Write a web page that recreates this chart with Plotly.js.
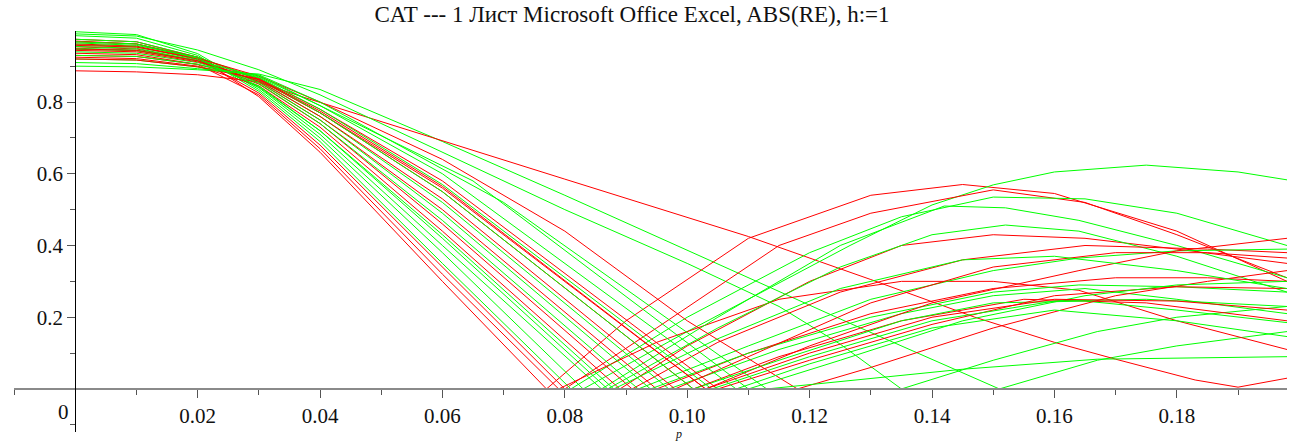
<!DOCTYPE html>
<html>
<head>
<meta charset="utf-8">
<script src="https://cdn.plot.ly/plotly-3.0.1.min.js"></script>
<style>html,body{margin:0;padding:0;background:#fff}#chart{width:1296px;height:443px}</style>
</head>
<body>
<div id="chart"></div>
<script>
const titleText = "CAT --- 1 Лист Microsoft Office Excel, ABS(RE), h:=1";
const xTickVals = [0.02, 0.04, 0.06, 0.08, 0.10, 0.12, 0.14, 0.16, 0.18];
const xTickText = ["0.02", "0.04", "0.06", "0.08", "0.10", "0.12", "0.14", "0.16", "0.18"];
const xMinorVals = [-0.01, 0.01, 0.03, 0.05, 0.07, 0.09, 0.11, 0.13, 0.15, 0.17, 0.19];
const yTickVals = [0.2, 0.4, 0.6, 0.8];
const yTickText = ["0.2", "0.4", "0.6", "0.8"];
const yMinorVals = [-0.1, 0.1, 0.3, 0.5, 0.7, 0.9];

const redP = [
  [0,0.01,0.02,0.03,0.037,0.06,0.08,0.11,0.13,0.147,0.16,0.17,0.183,0.19,0.198],
  [0,0.01,0.02,0.03,0.04,0.06,0.077,0.09,0.11,0.13,0.145,0.16,0.18,0.198],
  [0,0.01,0.02,0.03,0.04,0.06,0.08,0.095,0.115,0.13,0.15,0.165,0.18,0.198],
  [0,0.01,0.02,0.03,0.04,0.06,0.079,0.095,0.115,0.135,0.15,0.164,0.18,0.198],
  [0,0.01,0.02,0.03,0.04,0.06,0.089,0.10,0.12,0.135,0.15,0.165,0.18,0.198],
  [0,0.01,0.02,0.03,0.04,0.06,0.091,0.105,0.125,0.145,0.165,0.185,0.198],
  [0,0.01,0.02,0.03,0.04,0.06,0.095,0.11,0.13,0.15,0.17,0.185,0.198],
  [0,0.01,0.02,0.03,0.04,0.06,0.101,0.115,0.135,0.155,0.175,0.198],
  [0,0.01,0.02,0.03,0.04,0.06,0.103,0.12,0.14,0.164,0.18,0.198],
  [0,0.01,0.02,0.03,0.04,0.06,0.105,0.12,0.14,0.16,0.18,0.198],
  [0,0.01,0.02,0.03,0.04,0.06,0.08,0.10,0.118,0.13,0.15,0.17,0.185,0.198],
  [0,0.01,0.02,0.03,0.04,0.06,0.098,0.11,0.13,0.15,0.17,0.185,0.198],
  [0,0.01,0.02,0.03,0.04,0.06,0.103,0.12,0.14,0.16,0.18,0.198]
];
const redV = [
  [0.887,0.884,0.876,0.856,0.815,0.693,0.585,0.425,0.305,0.2,0.13,0.083,0.025,0.005,0.03],
  [0.975,0.968,0.925,0.815,0.66,0.30,0,0.19,0.42,0.54,0.57,0.545,0.44,0.30],
  [0.97,0.962,0.92,0.825,0.68,0.34,0,0.17,0.40,0.49,0.555,0.52,0.43,0.31],
  [0.936,0.932,0.905,0.82,0.67,0.32,0,0.13,0.25,0.30,0.30,0.275,0.19,0.11],
  [0.925,0.921,0.9,0.845,0.73,0.44,0,0.12,0.30,0.40,0.43,0.42,0.39,0.35],
  [0.954,0.948,0.915,0.85,0.74,0.46,0,0.13,0.27,0.36,0.40,0.39,0.38],
  [0.962,0.956,0.92,0.855,0.75,0.50,0,0.10,0.21,0.28,0.31,0.31,0.30],
  [0.93,0.927,0.905,0.862,0.77,0.55,0,0.09,0.19,0.25,0.24,0.19],
  [0.968,0.962,0.925,0.862,0.77,0.56,0,0.12,0.24,0.33,0.385,0.42],
  [0.944,0.94,0.912,0.866,0.78,0.58,0,0.08,0.18,0.26,0.285,0.28],
  [0.958,0.953,0.922,0.872,0.80,0.64,0.44,0.19,0,0.06,0.17,0.26,0.30,0.33],
  [0.948,0.944,0.915,0.858,0.76,0.53,0,0.09,0.24,0.34,0.38,0.38,0.365],
  [0.92,0.917,0.898,0.864,0.775,0.565,0,0.10,0.20,0.25,0.245,0.22]
];
const greenP = [
  [0,0.01,0.02,0.03,0.04,0.06,0.08,0.093,0.11,0.1266,0.151,0.167,0.18,0.198],
  [0,0.01,0.02,0.03,0.04,0.06,0.08,0.10,0.115,0.125,0.135,0.15,0.167,0.18,0.198],
  [0,0.01,0.02,0.03,0.04,0.06,0.083,0.10,0.1266,0.14,0.15,0.16,0.175,0.19,0.198],
  [0,0.01,0.02,0.03,0.04,0.06,0.081,0.10,0.12,0.135,0.15,0.165,0.18,0.198],
  [0,0.01,0.02,0.03,0.04,0.06,0.086,0.105,0.125,0.142,0.152,0.164,0.18,0.198],
  [0,0.01,0.02,0.03,0.04,0.06,0.087,0.105,0.125,0.14,0.152,0.164,0.18,0.198],
  [0,0.01,0.02,0.03,0.04,0.06,0.092,0.11,0.13,0.15,0.164,0.18,0.198],
  [0,0.01,0.02,0.03,0.04,0.06,0.094,0.11,0.13,0.15,0.164,0.18,0.198],
  [0,0.01,0.02,0.03,0.04,0.06,0.097,0.115,0.135,0.15,0.165,0.18,0.198],
  [0,0.01,0.02,0.03,0.04,0.06,0.101,0.115,0.135,0.15,0.165,0.18,0.198],
  [0,0.01,0.02,0.03,0.04,0.06,0.104,0.12,0.14,0.16,0.175,0.198],
  [0,0.01,0.02,0.03,0.04,0.06,0.108,0.12,0.14,0.16,0.18,0.198],
  [0,0.01,0.02,0.03,0.04,0.065,0.11,0.125,0.145,0.165,0.18,0.198],
  [0,0.01,0.02,0.03,0.04,0.07,0.113,0.125,0.145,0.167,0.198],
  [0,0.01,0.02,0.03,0.04,0.06,0.088,0.105,0.125,0.145,0.16,0.18,0.198]
];
const greenV = [
  [0.90,0.898,0.89,0.878,0.835,0.69,0.54,0.44,0.31,0.183,0,0.08,0.12,0.16],
  [0.99,0.984,0.945,0.89,0.82,0.66,0.50,0.35,0.23,0.125,0,0.08,0.16,0.20,0.23],
  [0.996,0.988,0.935,0.835,0.70,0.38,0,0.16,0.40,0.513,0.569,0.605,0.624,0.605,0.583],
  [0.985,0.978,0.93,0.83,0.69,0.35,0,0.20,0.38,0.48,0.535,0.53,0.49,0.40],
  [0.975,0.968,0.925,0.84,0.71,0.40,0,0.20,0.40,0.51,0.505,0.47,0.40,0.31],
  [0.96,0.954,0.918,0.845,0.72,0.42,0,0.17,0.34,0.43,0.457,0.44,0.37,0.27],
  [0.947,0.943,0.915,0.852,0.74,0.47,0,0.12,0.25,0.33,0.365,0.385,0.39],
  [0.955,0.95,0.915,0.856,0.75,0.49,0,0.10,0.20,0.27,0.29,0.285,0.27],
  [0.94,0.936,0.91,0.86,0.76,0.52,0,0.11,0.21,0.26,0.28,0.25,0.21],
  [0.965,0.958,0.925,0.866,0.77,0.55,0,0.08,0.19,0.24,0.245,0.22,0.185],
  [0.93,0.927,0.905,0.868,0.78,0.57,0,0.09,0.19,0.245,0.25,0.23],
  [0.95,0.945,0.915,0.87,0.79,0.60,0,0.07,0.17,0.22,0.19,0.146],
  [0.92,0.917,0.898,0.874,0.79,0.58,0,0.08,0.19,0.26,0.29,0.30],
  [0.91,0.907,0.893,0.876,0.80,0.52,0,0.02,0.055,0.083,0.09],
  [0.968,0.962,0.922,0.842,0.72,0.43,0,0.14,0.28,0.36,0.37,0.33,0.28]
];

const xRange = [-0.01, 0.198];
const yRange = [-0.12, 0.998];

const traces = [];
const n = Math.max(redP.length, greenP.length);
for (let i = 0; i < n; i++) {
  if (i < greenP.length) traces.push({x: greenP[i], y: greenV[i], type: 'scatter', mode: 'lines',
    line: {color: '#00ff00', width: 1, shape: 'linear'}, hoverinfo: 'skip', showlegend: false});
  if (i < redP.length) traces.push({x: redP[i], y: redV[i], type: 'scatter', mode: 'lines',
    line: {color: '#ff0000', width: 1, shape: 'linear'}, hoverinfo: 'skip', showlegend: false});
}

const serif = '"Liberation Serif", "Times New Roman", serif';
const layout = {
  width: 1296, height: 443,
  margin: {l: 14, r: 9, t: 31, b: 11, pad: 0},
  paper_bgcolor: '#fff', plot_bgcolor: '#fff',
  font: {family: serif, color: '#111'},
  title: {text: titleText, font: {family: serif, size: 23, color: '#111'},
    x: 632 / 1296, xref: 'container', xanchor: 'center',
    y: 1 - 14 / 443, yref: 'container', yanchor: 'middle'},
  xaxis: {
    range: xRange, anchor: 'free',
    position: (0 - yRange[0]) / (yRange[1] - yRange[0]),
    showgrid: false, zeroline: false,
    showline: true, linecolor: '#8a8a8a', linewidth: 2,
    tickmode: 'array', tickvals: xTickVals, ticktext: xTickText,
    ticks: 'outside', ticklen: 8, tickwidth: 1, tickcolor: '#555',
    tickfont: {family: serif, size: 21, color: '#111'},
    minor: {tickmode: 'array', tickvals: xMinorVals, ticks: 'outside', ticklen: 5, tickwidth: 1, tickcolor: '#555', showgrid: false},
    fixedrange: true
  },
  yaxis: {
    range: yRange, anchor: 'free',
    position: (0 - xRange[0]) / (xRange[1] - xRange[0]),
    showgrid: false, zeroline: false,
    showline: true, linecolor: '#000', linewidth: 1,
    tickmode: 'array', tickvals: yTickVals, ticktext: yTickText,
    ticks: 'outside', ticklen: 8, tickwidth: 1, tickcolor: '#555',
    tickfont: {family: serif, size: 21, color: '#111'},
    minor: {tickmode: 'array', tickvals: yMinorVals, ticks: 'outside', ticklen: 5, tickwidth: 1, tickcolor: '#555', showgrid: false},
    fixedrange: true
  },
  annotations: [
    {text: '0', x: 0, y: -0.064, xref: 'x', yref: 'y', xanchor: 'right', yanchor: 'middle',
      xshift: -4, showarrow: false, font: {family: serif, size: 21, color: '#111'}},
    {text: '<i>p</i>', x: 0.0985, y: 0, xref: 'x', yref: 'paper', xanchor: 'center', yanchor: 'middle',
      yshift: -2, showarrow: false, font: {family: serif, size: 12, color: '#111'}}
  ]
};

Plotly.newPlot('chart', traces, layout, {staticPlot: true, displayModeBar: false});
</script>
</body>
</html>
